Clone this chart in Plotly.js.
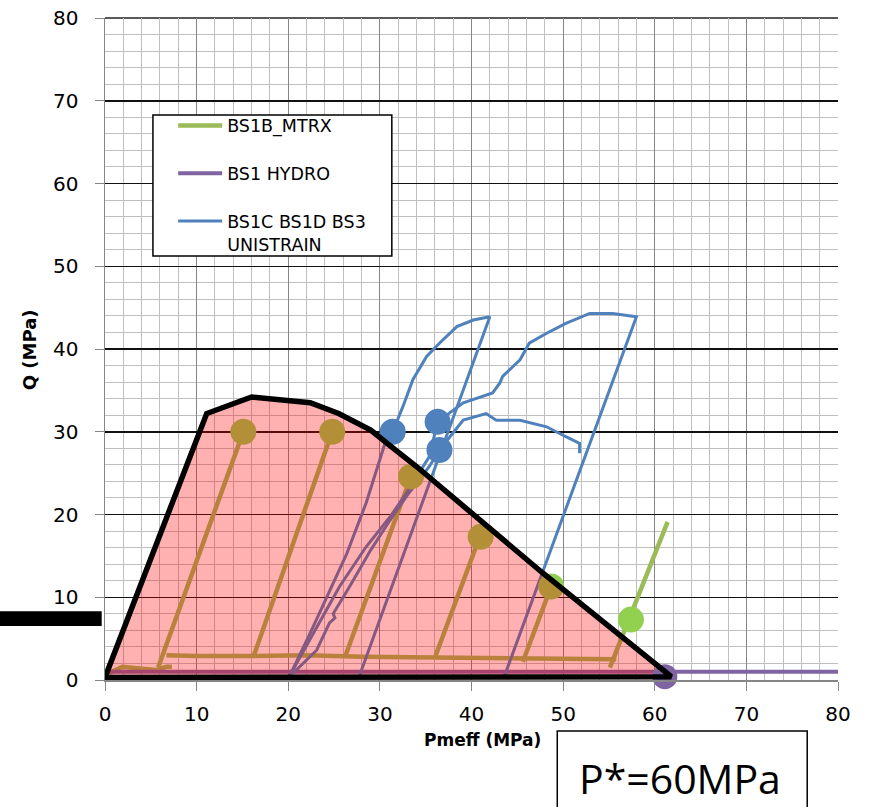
<!DOCTYPE html>
<html>
<head>
<meta charset="utf-8">
<script src="https://cdn.plot.ly/plotly-3.0.1.min.js"></script>
<style>html,body{margin:0;padding:0;background:#fff;}#chart{width:872px;height:807px;}</style>
</head>
<body>
<div id="chart"></div>
<script>
// ---- Data ----
// BS1B_MTRX (multi-stage triaxial) : paths separated by null
const mtrxX = [0.4,1.9,3.8,5.6,6.7,7.3,null, 5.8,15.1,null, 6.7,10,16,22,28,36,44,50,55.8,null, 16.2,24.8,null, 26.2,33.4,null, 36.0,40.9,null, 45.6,48.7,null, 55.1,61.4];
const mtrxY = [0.8,1.6,1.4,1.2,1.6,1.6,null, 1.5,30.0,null, 3.0,2.9,2.9,3.0,2.8,2.7,2.6,2.6,2.5,null, 2.8,30.0,null, 2.8,24.6,null, 2.7,17.3,null, 2.2,11.3,null, 1.5,19.1];
const mtrxFailX = [15.1,24.8,33.4,41.0,48.7,57.4];
const mtrxFailY = [30.0,30.0,24.6,17.3,11.3,7.3];

// BS1 HYDRO
const hydroX = [0.3,80];
const hydroY = [1.0,1.0];
const hydroPtX = [61.1];
const hydroPtY = [0.4];

// BS1C BS1D BS3 UNISTRAIN
const uniAX = [20.2,22.7,26.4,28.5,30.5,31.4,32.5,33.6,35.1,36.5,38.4,40.2,42.0,27.8];
const uniAY = [0.6,6.4,15.3,21.4,28.4,30.0,33.0,36.3,39.1,40.7,42.7,43.5,43.9,0.6];
const uniBX = [20.2,22.7,25.6,28.5,31.1,32.9,35.4,36.3,39.1,42.3,43.1,43.4,45.3,46.3,48.2,50.3,52.9,55.4,58.0,43.6];
const uniBY = [0.6,5.6,11.3,16.1,19.7,22.6,27.0,31.2,33.5,34.7,35.9,36.7,38.7,40.7,41.9,43.1,44.3,44.3,43.9,0.5];
const uniCX = [20.5,23.1,24.5,25.1,24.9,26.7,29.0,31.1,32.9,35.4,36.5,39.1,41.6,42.7,45.3,48.2,50.3,51.8,51.8];
const uniCY = [0.8,3.6,6.9,7.5,8.0,11.3,15.7,19.3,22.2,25.8,27.8,31.4,32.2,31.4,31.4,30.6,29.4,28.6,27.4];
const uniPtX = [31.4,36.3,36.5];
const uniPtY = [30.0,31.2,27.8];

// Failure envelope (closed polygon)
const envX = [0,11.1,16.0,22.4,25.5,29.0,31.0,34.0,47.8,61.8,0];
const envY = [0.3,32.2,34.2,33.5,32.2,30.2,28.4,25.8,12.9,0.4,0.3];

// Labels
const seriesNames = ['BS1B_MTRX','BS1 HYDRO','BS1C BS1D BS3<br>UNISTRAIN'];
const xTitle = 'Pmeff (MPa)';
const yTitle = 'Q (MPa)';
const boxText = 'P*=60MPa';

// ---- Styles ----
const GREEN = '#9BBB59', GREEN_PT = '#92D050', PURPLE = '#8064A2', BLUE = '#4F81BD';

const traces = [
  {x: mtrxX, y: mtrxY, mode:'lines', name: seriesNames[0], legendgroup:'g',
   line:{color:GREEN, width:4.5}, connectgaps:false},
  {x: hydroX, y: hydroY, mode:'lines', name: seriesNames[1], legendgroup:'p',
   line:{color:PURPLE, width:4}},
  {x: uniAX, y: uniAY, mode:'lines', name: seriesNames[2], legendgroup:'b',
   line:{color:BLUE, width:3}},
  {x: uniBX, y: uniBY, mode:'lines', showlegend:false, legendgroup:'b',
   line:{color:BLUE, width:3}},
  {x: uniCX, y: uniCY, mode:'lines', showlegend:false, legendgroup:'b',
   line:{color:BLUE, width:3}},
  {x: mtrxFailX, y: mtrxFailY, mode:'markers', showlegend:false,
   marker:{color:GREEN_PT, size:26}},
  // envelope fill (translucent, over the test paths)
  {x: envX, y: envY, mode:'lines', showlegend:false, fill:'toself',
   fillcolor:'rgba(255,0,0,0.31)', line:{color:'rgba(0,0,0,0)', width:0}},
  {x: uniPtX, y: uniPtY, mode:'markers', showlegend:false,
   marker:{color:BLUE, size:26}},
  {x: hydroPtX, y: hydroPtY, mode:'markers', showlegend:false, cliponaxis:false,
   marker:{color:PURPLE, size:25}},
  // envelope outline
  {x: envX, y: envY, mode:'lines', showlegend:false,
   line:{color:'#000', width:5.5}}
];

const axisCommon = {
  range:[0,80], dtick:10, tick0:0, ticks:'outside', ticklen:9, tickwidth:1, tickcolor:'#868686',
  showgrid:true, gridwidth:1, zeroline:false, showline:true, linecolor:'#868686', linewidth:1.5,
  minor:{dtick:2, showgrid:true, gridcolor:'#BFBFBF', gridwidth:1},
  tickfont:{family:'DejaVu Sans', size:20, color:'#000'}, fixedrange:true
};

const layout = {
  width:872, height:807,
  margin:{l:105, r:33.5, t:18, b:127},
  paper_bgcolor:'#fff', plot_bgcolor:'#fff',
  showlegend:true,
  xaxis: Object.assign({}, axisCommon, {gridcolor:'#868686', ticklabelstandoff:6}),
  yaxis: Object.assign({}, axisCommon, {gridcolor:'#111', gridwidth:1.5, ticklabelstandoff:12}),
  legend:{x:0.093, y:0.8645, xanchor:'left', yanchor:'top', bgcolor:'rgba(0,0,0,0)',
    borderwidth:0, font:{family:'DejaVu Sans', size:17.5, color:'#000'},
    traceorder:'grouped', tracegroupgap:22, valign:'top', itemwidth:44},
  annotations:[
    {text:'<b>'+xTitle+'</b>', xref:'paper', yref:'paper', x:0.515, y:-0.0906,
     xanchor:'center', yanchor:'middle', showarrow:false,
     font:{family:'DejaVu Sans', size:17, color:'#000'}},
    {text:'<b>'+yTitle+'</b>', xref:'paper', yref:'paper', x:-0.102, y:0.4985,
     xanchor:'center', yanchor:'middle', textangle:-90, showarrow:false,
     font:{family:'DejaVu Sans', size:18, color:'#000'}},
    {text:boxText, xref:'paper', yref:'paper', x:0.785, y:-0.148,
     xanchor:'center', yanchor:'middle', showarrow:false,
     font:{family:'Open Sans', size:41, color:'#000'}}
  ],
  shapes:[
    // legend frame
    {type:'rect', xref:'paper', yref:'paper', x0:0.0654, x1:0.3913, y0:0.6405, y1:0.8535,
     line:{color:'#000', width:1.5}, fillcolor:'#fff', layer:'above'},
    // top frame line
    {type:'line', xref:'paper', yref:'paper', x0:0, x1:1, y0:1, y1:1,
     line:{color:'#222', width:1.5}, layer:'below'},
    // P* box
    {type:'rect', xref:'paper', yref:'paper', x0:0.617, x1:0.958, y0:-0.077, y1:-0.25,
     line:{color:'#000', width:1.5}, fillcolor:'rgba(0,0,0,0)', layer:'above'},
    // black bar at left
    {type:'rect', xref:'paper', yref:'paper', x0:-0.145, x1:-0.0045, y0:0.0814, y1:0.104,
     line:{width:0}, fillcolor:'#000', layer:'above'}
  ]
};

Plotly.newPlot('chart', traces, layout, {displayModeBar:false, staticPlot:true});
</script>
</body>
</html>
